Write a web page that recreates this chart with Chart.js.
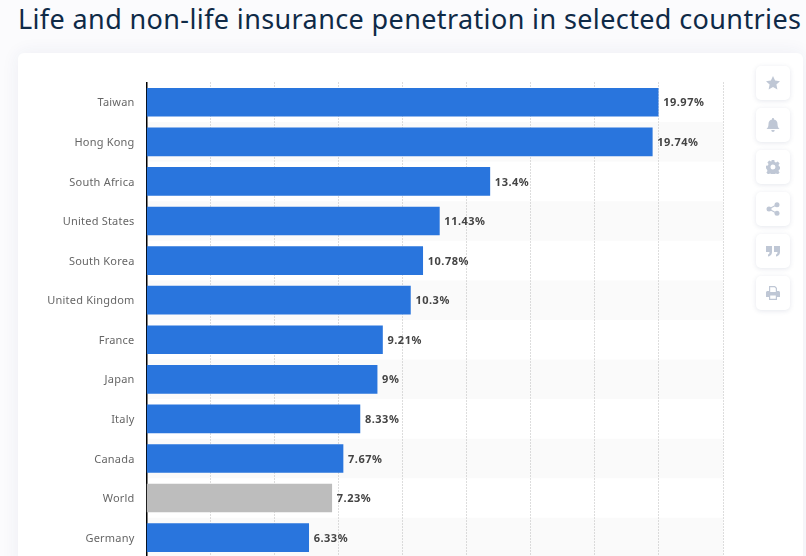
<!DOCTYPE html>
<html>
<head>
<meta charset="utf-8">
<title>Life and non-life insurance penetration in selected countries</title>
<script src="https://cdn.jsdelivr.net/npm/chart.js@4"></script>
<style>
    html, body { margin: 0; height: 100%; overflow: hidden; background: #fbfbfd; }
    h1 {
        position: absolute; left: 18px; top: 0; margin: 0; white-space: nowrap;
        font: 400 27px/38px "Noto Sans", sans-serif; letter-spacing: 0.38px; color: #0f2a47;
    }
    .card {
        position: absolute; left: 18px; top: 53px; width: 785px; height: 520px;
        background: #fff; border-radius: 6px; box-shadow: 0 0 18px rgba(40, 60, 110, 0.07);
    }
    canvas { position: absolute; left: 0; top: 0; }
    .btn {
        position: absolute; left: 738px; width: 34px; height: 34px; background: #fff;
        border-radius: 5px; box-shadow: 0 1px 5px rgba(40, 60, 110, 0.12);
    }
    .btn svg { position: absolute; left: 10px; top: 10px; width: 14px; height: 14px; fill: #bfc7d5; }
</style>
</head>
<body>
<h1>Life and non-life insurance penetration in selected countries</h1>
<div class="card">
    <canvas id="chart"></canvas>
    <div class="btn" style="top:13px"><svg viewBox="0 0 14 14"><path d="M7 0l2.100 4.600 4.900.6-3.600 3.400 1 4.900L7 11l-4.400 2.500 1-4.900L0 5.200l4.900-.6z"/></svg></div>
    <div class="btn" style="top:55px"><svg viewBox="0 0 14 14"><path d="M7 0c.6 0 1 .4 1 1v.6c2.200.5 3.500 2.200 3.500 4.400 0 3 1 4 2 5H.5c1-1 2-2 2-5 0-2.200 1.300-3.900 3.500-4.400V1c0-.6.4-1 1-1zM5.300 12h3.400c0 1-.8 2-1.700 2s-1.700-1-1.700-2z"/></svg></div>
    <div class="btn" style="top:97px"><svg viewBox="0 0 14 14"><path fill-rule="evenodd" d="M5.700 0h2.600l.4 2 1.300.6 1.800-1.100 1.800 1.900-1.100 1.700.6 1.300 1.900.4v2.400l-1.900.4-.6 1.300 1.100 1.700-1.800 1.900-1.800-1.100-1.300.6-.4 1.900H5.700l-.4-1.900-1.300-.6-1.800 1.100-1.800-1.900 1.100-1.700-.6-1.300L0 8.200V5.800l1.900-.4.6-1.300-1.100-1.700 1.800-1.900L5 1.600l.3-.1zM7 4.500a2.500 2.500 0 1 0 0 5 2.500 2.500 0 0 0 0-5z"/></svg></div>
    <div class="btn" style="top:139px"><svg viewBox="0 0 14 14"><circle cx="3" cy="7" r="2.500"/><circle cx="11" cy="2.800" r="2.500"/><circle cx="11" cy="11.200" r="2.500"/><path d="M3 6.300l8-4.200.5 1-8 4.200zM3.500 6.700l8 4.200-.5 1-8-4.200z"/></svg></div>
    <div class="btn" style="top:181px"><svg viewBox="0 0 14 14"><path d="M0 2h6v6c0 2.500-1.500 4-4 4.500V10.500c1-.3 1.500-1 1.500-2.500H0zM8 2h6v6c0 2.500-1.500 4-4 4.500V10.500c1-.3 1.500-1 1.500-2.500H8z"/></svg></div>
    <div class="btn" style="top:223px"><svg viewBox="0 0 14 14"><path fill-rule="evenodd" d="M3 0h6l2 2v3h1.500c.8 0 1.500.7 1.500 1.500V11h-3v3H3v-3H0V6.500C0 5.700.7 5 1.500 5H3zM4.200 1.200V6h5.600V2.500L8.500 1.200zM4.200 9.500v3.300h5.600V9.500z"/></svg></div>
</div>
<script>
const categories = ['Taiwan', 'Hong Kong', 'South Africa', 'United States', 'South Korea', 'United Kingdom',
    'France', 'Japan', 'Italy', 'Canada', 'World', 'Germany'];
const penetration = [19.97, 19.74, 13.4, 11.43, 10.78, 10.3, 9.21, 9, 8.33, 7.67, 7.23, 6.33];
const greyCategory = 'World';

// alternating row backgrounds, behind the grid
const rowBands = {
    id: 'rowBands',
    beforeDraw(chart) {
        const { ctx, chartArea, scales } = chart;
        const rowHeight = scales.y.height / categories.length;
        ctx.letterSpacing = '0.2px'; // ticks pick this up, Chart.js has no option for it
        ctx.save();
        ctx.fillStyle = '#fafafa';
        categories.forEach((name, i) => {
            if (i % 2 === 1) {
                const top = scales.y.getPixelForValue(i) - rowHeight / 2;
                ctx.fillRect(chartArea.left, top, chartArea.width, rowHeight);
            }
        });
        ctx.restore();
    }
};

// value text right of each bar
const valueLabels = {
    id: 'valueLabels',
    afterDatasetsDraw(chart) {
        const { ctx } = chart;
        ctx.save();
        ctx.font = 'bold 11px "Noto Sans", sans-serif';
        ctx.letterSpacing = '0.5px';
        ctx.fillStyle = '#444';
        ctx.textBaseline = 'middle';
        chart.getDatasetMeta(0).data.forEach((bar, i) => {
            ctx.fillText(penetration[i] + '%', bar.x + 5, bar.y + 1);
        });
        ctx.restore();
    }
};

const canvas = document.getElementById('chart');
canvas.width = 730;
canvas.height = 523;
canvas.style.width = '730px';
canvas.style.height = '523px';

new Chart(canvas, {
    type: 'bar',
    data: {
        labels: categories,
        datasets: [{
            data: penetration,
            backgroundColor: categories.map(c => c === greyCategory ? '#bdbdbd' : '#2975dd'),
            barThickness: 28
        }]
    },
    options: {
        indexAxis: 'y',
        responsive: false,
        animation: false,
        layout: { padding: { top: 29.5, right: 25, bottom: 0, left: 0 } },
        plugins: { legend: { display: false }, tooltip: { enabled: false } },
        scales: {
            x: {
                min: 0,
                max: 22.5,
                afterFit(axis) { axis.height = 0; },
                ticks: { display: false, stepSize: 2.5 },
                border: { display: false, dash: [1, 2] },
                grid: { color: '#bbb', lineWidth: 1, drawTicks: false }
            },
            y: {
                afterFit(axis) { axis.width = 128.5; },
                grid: { display: false, drawTicks: false },
                border: { color: '#000', width: 1.5 },
                ticks: {
                    color: '#666',
                    padding: 12,
                    labelOffset: 1,
                    autoSkip: false,
                    font: { family: '"Noto Sans", sans-serif', size: 11 }
                }
            }
        }
    },
    plugins: [rowBands, valueLabels]
});
</script>
</body>
</html>
